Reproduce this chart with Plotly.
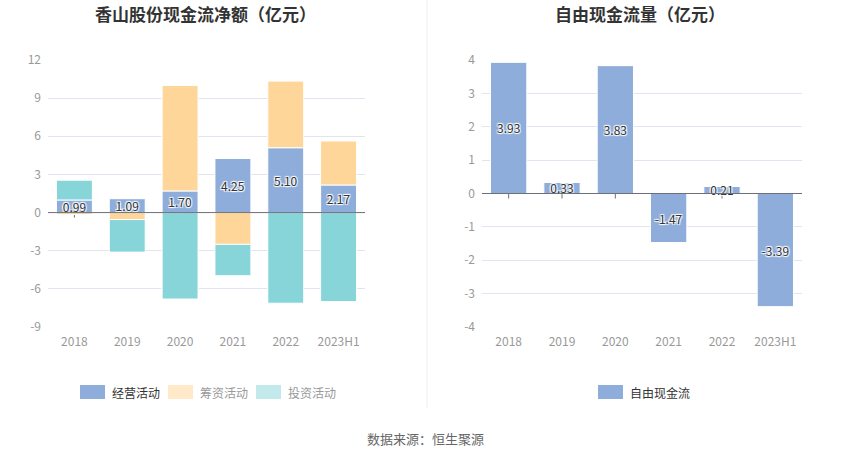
import plotly.graph_objects as go

categories = ["2018", "2019", "2020", "2021", "2022", "2023H1"]
operating = [0.99, 1.09, 1.70, 4.25, 5.10, 2.17]
financing = [-0.16, -0.55, 8.30, -2.50, 5.24, 3.46]
investing = [1.56, -2.56, -6.80, -2.47, -7.13, -7.00]
free_cf = [3.93, 0.33, 3.83, -1.47, 0.21, -3.39]

left_ticks = [-9, -6, -3, 0, 3, 6, 9, 12]
right_ticks = [-4, -3, -2, -1, 0, 1, 2, 3, 4]

left_legend = ["经营活动", "筹资活动", "投资活动"]
right_legend = ["自由现金流"]

BLUE = "#8EADDA"
ORANGE = "#FFD699"
TEAL = "#87D5D9"
ORANGE_PALE = "#FFE9C9"
TEAL_PALE = "#C2EAEC"
AXIS = "#6E7079"
FONT = "Noto Sans CJK SC"
SHADOW = "1px 1px 1px #fff, -1px -1px 1px #fff, 1px -1px 1px #fff, -1px 1px 1px #fff"

H = 459.0
W = 850.0

fig = go.Figure()

fig.add_trace(go.Bar(
    x=categories, y=operating, name=left_legend[0], marker=dict(color=BLUE, line=dict(color="#ffffff", width=1)),
    text=[f"{v:.2f}" for v in operating], textposition="inside", insidetextanchor="middle",
    constraintext="none", textangle=0,
    textfont=dict(color="#333333", size=12, family=FONT, shadow=SHADOW),
    xaxis="x", yaxis="y", showlegend=False, hoverinfo="skip"))
fig.add_trace(go.Bar(
    x=categories, y=financing, name=left_legend[1],
    marker=dict(color=ORANGE, line=dict(color="#ffffff", width=1)),
    xaxis="x", yaxis="y", showlegend=False, hoverinfo="skip"))
fig.add_trace(go.Bar(
    x=categories, y=investing, name=left_legend[2],
    marker=dict(color=TEAL, line=dict(color="#ffffff", width=1)),
    xaxis="x", yaxis="y", showlegend=False, hoverinfo="skip"))

fig.add_trace(go.Bar(
    x=categories, y=free_cf, name=right_legend[0], marker=dict(color=BLUE, line=dict(color="#ffffff", width=1)),
    text=[f"{v:.2f}" for v in free_cf], textposition="inside", insidetextanchor="middle",
    constraintext="none", textangle=0,
    textfont=dict(color="#333333", size=12, family=FONT, shadow=SHADOW),
    xaxis="x2", yaxis="y2", showlegend=False, hoverinfo="skip"))

axis_common = dict(type="category", categoryorder="array", categoryarray=categories,
                   showgrid=False, showline=False, ticks="", automargin=False, ticklabelstandoff=6,
                   tickfont=dict(color="#999999", size=12, family=FONT))
yaxis_common = dict(type="linear", showgrid=True, gridcolor="#E0E6F1", gridwidth=1, zeroline=False,
                    showline=False, ticks="", automargin=False, ticklabelstandoff=6,
                    tickfont=dict(color="#999999", size=12, family=FONT))

ydom = [(H - 327) / H, (H - 60) / H]

shapes = [
    dict(type="line", xref="paper", yref="paper", x0=427 / W, x1=427 / W, y0=1 - 408 / H, y1=1,
         line=dict(color="#EEEEEE", width=1)),
    dict(type="line", xref="x domain", yref="y", x0=0, x1=1, y0=0, y1=0, layer="above",
         line=dict(color=AXIS, width=1)),
    dict(type="line", xref="x2 domain", yref="y2", x0=0, x1=1, y0=0, y1=0, layer="above",
         line=dict(color=AXIS, width=1)),
]
for i, c in enumerate(categories):
    for xr, yr in (("x", "y"), ("x2", "y2")):
        shapes.append(dict(type="line", xref=xr, yref=yr, x0=i, x1=i, ysizemode="pixel", yanchor=0,
                           y0=0, y1=-5, layer="below", line=dict(color=AXIS, width=1)))

annotations = [
    dict(text="<b>香山股份现金流净额（亿元）</b>", x=205 / W, y=1 - 14 / H, xref="paper", yref="paper",
         xanchor="center", yanchor="middle", showarrow=False, font=dict(size=17, color="#333333", family=FONT)),
    dict(text="<b>自由现金流量（亿元）</b>", x=640 / W, y=1 - 14 / H, xref="paper", yref="paper",
         xanchor="center", yanchor="middle", showarrow=False, font=dict(size=17, color="#333333", family=FONT)),
    dict(text="数据来源：恒生聚源", x=425 / W, y=1 - 438 / H, xref="paper", yref="paper",
         xanchor="center", yanchor="middle", showarrow=False, font=dict(size=13, color="#666666", family=FONT)),
]

legend_items = [
    (left_legend[0], BLUE, "#333333", 80),
    (left_legend[1], ORANGE_PALE, "#999999", 168),
    (left_legend[2], TEAL_PALE, "#999999", 256),
    (right_legend[0], BLUE, "#333333", 598),
]
for name, col, tcol, x0 in legend_items:
    x1 = x0 + 25
    shapes.append(dict(type="rect", xref="paper", yref="paper", x0=x0 / W, x1=x1 / W,
                       y0=1 - 399 / H, y1=1 - 385 / H,
                       fillcolor=col, line=dict(width=0), layer="above"))
    annotations.append(dict(text=name, x=(x1 + 5) / W, y=1 - 392 / H, xref="paper", yref="paper",
                            xanchor="left", yanchor="middle", showarrow=False,
                            font=dict(size=12, color=tcol, family=FONT)))

fig.update_layout(
    width=850, height=459,
    margin=dict(l=0, r=0, t=0, b=0, autoexpand=False),
    paper_bgcolor="#ffffff", plot_bgcolor="#ffffff",
    barmode="relative", bargap=0.32,
    font=dict(family=FONT),
    showlegend=False,
    xaxis=dict(domain=[48 / W, 365 / W], anchor="y", **axis_common),
    yaxis=dict(domain=ydom, anchor="x", range=[-9, 12], tickvals=left_ticks,
               ticktext=[str(v) for v in left_ticks], **yaxis_common),
    xaxis2=dict(domain=[482 / W, 802 / W], anchor="y2", **axis_common),
    yaxis2=dict(domain=ydom, anchor="x2", range=[-4, 4], tickvals=right_ticks,
                ticktext=[str(v) for v in right_ticks], **yaxis_common),
    annotations=annotations,
    shapes=shapes,
)

fig.write_html("out.html", config={"displayModeBar": False},
               post_script="document.body.style.margin='0';document.body.style.overflow='hidden';")
